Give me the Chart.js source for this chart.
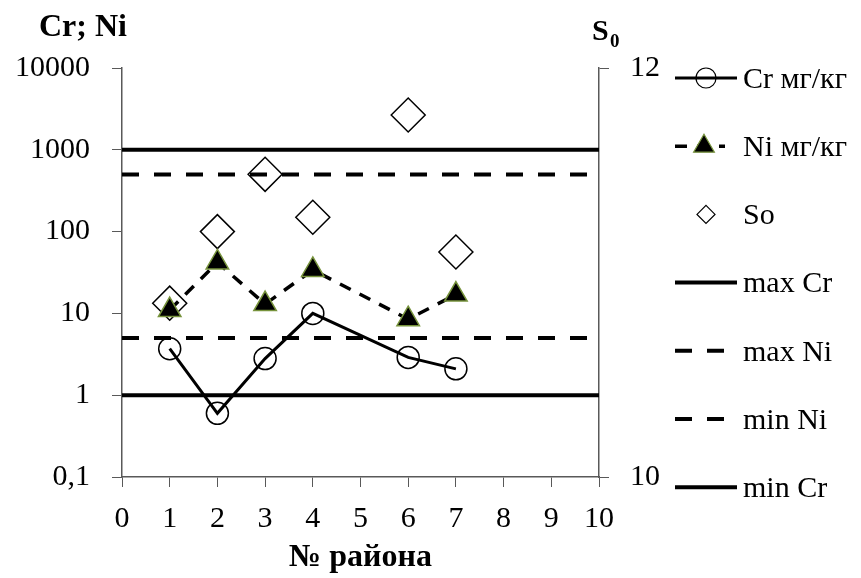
<!DOCTYPE html>
<html>
<head>
<meta charset="utf-8">
<script src="https://cdn.jsdelivr.net/npm/chart.js@4/dist/chart.umd.min.js"></script>
<style>
  html, body { margin: 0; padding: 0; background: #fff; }
  #chart { display: block; }
</style>
</head>
<body>
<canvas id="chart" width="861" height="578"></canvas>
<script>
// district numbers and measured values
var districts = [1, 2, 3, 4, 6, 7];
var crValues = [3.7, 0.6, 2.8, 10, 2.9, 2.1];
var niValues = [11, 42, 13, 34, 8.5, 17];
var soValues = [10.85, 11.2, 11.48, 11.27, 11.77, 11.1];

// limit lines across the whole x range
var limitX = [0, 10];
var maxCr = 1000;
var maxNi = 500;
var minNi = 5;
var minCr = 1;

var yTicks = [0.1, 1, 10, 100, 1000, 10000];
var soTicks = [10, 12];

var legendLabels = ['Cr мг/кг', 'Ni мг/кг', 'So', 'max Cr', 'max Ni', 'min Ni', 'min Cr'];

var SERIF = '"Liberation Serif", "Times New Roman", serif';
var AXIS_COLOR = '#595959';

function points(xs, ys) {
    return xs.map(function (x, i) { return {x: x, y: ys[i]}; });
}
function flat(v) {
    return limitX.map(function (x) { return {x: x, y: v}; });
}
function limitLine(v, dashed) {
    return {
        data: flat(v),
        borderColor: '#000',
        borderWidth: 4,
        borderDash: dashed ? [17, 15] : [],
        pointRadius: 0,
        showLine: true,
        yAxisID: 'y'
    };
}

// small marker shapes for the legend samples
function marker(ctx, style, x, y, r, fill, stroke, lw) {
    ctx.save();
    ctx.beginPath();
    if (style === 'circle') {
        ctx.arc(x, y, r, 0, Math.PI * 2);
    } else if (style === 'triangle') {
        ctx.moveTo(x, y - r);
        ctx.lineTo(x + r * 0.866, y + r * 0.5);
        ctx.lineTo(x - r * 0.866, y + r * 0.5);
        ctx.closePath();
    } else {
        ctx.moveTo(x, y - r);
        ctx.lineTo(x + r, y);
        ctx.lineTo(x, y + r);
        ctx.lineTo(x - r, y);
        ctx.closePath();
    }
    if (fill) { ctx.fillStyle = fill; ctx.fill(); }
    ctx.lineWidth = lw;
    ctx.strokeStyle = stroke;
    ctx.setLineDash([]);
    ctx.stroke();
    ctx.restore();
}

var sidePlugin = {
    id: 'side',
    afterDraw: function (chart) {
        var ctx = chart.ctx;
        var area = chart.chartArea;
        ctx.save();
        ctx.fillStyle = '#000';

        // axis titles
        ctx.font = 'bold 32px ' + SERIF;
        ctx.textBaseline = 'alphabetic';
        ctx.textAlign = 'left';
        ctx.fillText('Cr; Ni', 39, 36);
        ctx.font = 'bold 30px ' + SERIF;
        ctx.fillText('S', 592, 40);
        ctx.font = 'bold 19px ' + SERIF;
        ctx.fillText('0', 610, 47);
        ctx.font = 'bold 32px ' + SERIF;
        ctx.textAlign = 'center';
        ctx.fillText('№ района', (area.left + area.right) / 2, 566);

        // legend: line sample, marker, label
        chart.data.datasets.forEach(function (ds, i) {
            var y = 78 + i * 68.2;
            var dashed = ds.borderDash && ds.borderDash.length;
            var x0 = 675, x1 = dashed ? 725 : 737;
            var mx = dashed ? 704 : 706;
            if (ds.showLine !== false) {
                ctx.beginPath();
                ctx.setLineDash(ds.borderDash || []);
                ctx.lineWidth = ds.borderWidth;
                ctx.strokeStyle = ds.borderColor;
                ctx.moveTo(x0, y);
                ctx.lineTo(x1, y);
                ctx.stroke();
                ctx.setLineDash([]);
            }
            if (ds.pointRadius > 0) {
                marker(ctx, ds.legendStyle, mx, y, ds.legendRadius,
                    ds.pointBackgroundColor, ds.pointBorderColor, 1.2);
            }
            ctx.fillStyle = '#000';
            ctx.font = '30px ' + SERIF;
            ctx.textAlign = 'left';
            ctx.textBaseline = 'middle';
            ctx.fillText(legendLabels[i], 743, y + 2);
        });
        ctx.restore();
    }
};

var ctx = document.getElementById('chart').getContext('2d');
var chart = new Chart(ctx, {
    type: 'scatter',
    data: {
        datasets: [{
            data: points(districts, crValues),
            borderColor: '#000',
            borderWidth: 3,
            showLine: true,
            pointStyle: 'circle',
            pointRadius: 11,
            pointBorderWidth: 1.5,
            pointBorderColor: '#000',
            pointBackgroundColor: 'rgba(0,0,0,0)',
            legendStyle: 'circle',
            legendRadius: 10,
            yAxisID: 'y'
        }, {
            data: points(districts, niValues),
            borderColor: '#000',
            borderWidth: 3.5,
            borderDash: [12, 10],
            showLine: true,
            pointStyle: 'triangle',
            pointRadius: 13,
            pointBorderWidth: 1.5,
            pointBorderColor: '#77933c',
            pointBackgroundColor: '#000',
            legendStyle: 'triangle',
            legendRadius: 12,
            yAxisID: 'y'
        }, {
            data: points(districts, soValues),
            showLine: false,
            borderColor: '#000',
            pointStyle: 'rectRot',
            pointRadius: 17,
            pointBorderWidth: 1.5,
            pointBorderColor: '#000',
            pointBackgroundColor: 'rgba(0,0,0,0)',
            legendStyle: 'diamond',
            legendRadius: 9,
            yAxisID: 'y1'
        },
        limitLine(maxCr, false),
        limitLine(maxNi, true),
        limitLine(minNi, true),
        limitLine(minCr, false)]
    },
    options: {
        responsive: false,
        animation: false,
        layout: { padding: { top: 68, left: 0, right: 0, bottom: 0 } },
        plugins: {
            legend: { display: false },
            tooltip: { enabled: false }
        },
        elements: { line: { tension: 0 } },
        scales: {
            x: {
                type: 'linear',
                min: 0,
                max: 10,
                afterFit: function (s) { s.height = 101; },
                ticks: {
                    stepSize: 1,
                    color: '#000',
                    padding: 14,
                    font: { family: SERIF, size: 30 }
                },
                grid: { drawOnChartArea: false, tickLength: 10, color: AXIS_COLOR },
                border: { color: AXIS_COLOR, width: 1.5 }
            },
            y: {
                type: 'logarithmic',
                position: 'left',
                min: 0.1,
                max: 10000,
                afterFit: function (s) { s.width = 122; },
                afterBuildTicks: function (s) {
                    s.ticks = yTicks.map(function (v) { return {value: v}; });
                },
                ticks: {
                    color: '#000',
                    padding: 22,
                    font: { family: SERIF, size: 30 },
                    callback: function (v) { return String(v).replace('.', ','); }
                },
                grid: { drawOnChartArea: false, tickLength: 10, color: AXIS_COLOR },
                border: { color: AXIS_COLOR, width: 1.5 }
            },
            y1: {
                type: 'linear',
                position: 'right',
                min: 10,
                max: 12,
                afterFit: function (s) { s.width = 262; },
                afterBuildTicks: function (s) {
                    s.ticks = soTicks.map(function (v) { return {value: v}; });
                },
                ticks: {
                    color: '#000',
                    padding: 21,
                    font: { family: SERIF, size: 30 }
                },
                grid: { drawOnChartArea: false, tickLength: 10, color: AXIS_COLOR },
                border: { color: AXIS_COLOR, width: 1.5 }
            }
        }
    },
    plugins: [sidePlugin]
});
</script>
</body>
</html>
